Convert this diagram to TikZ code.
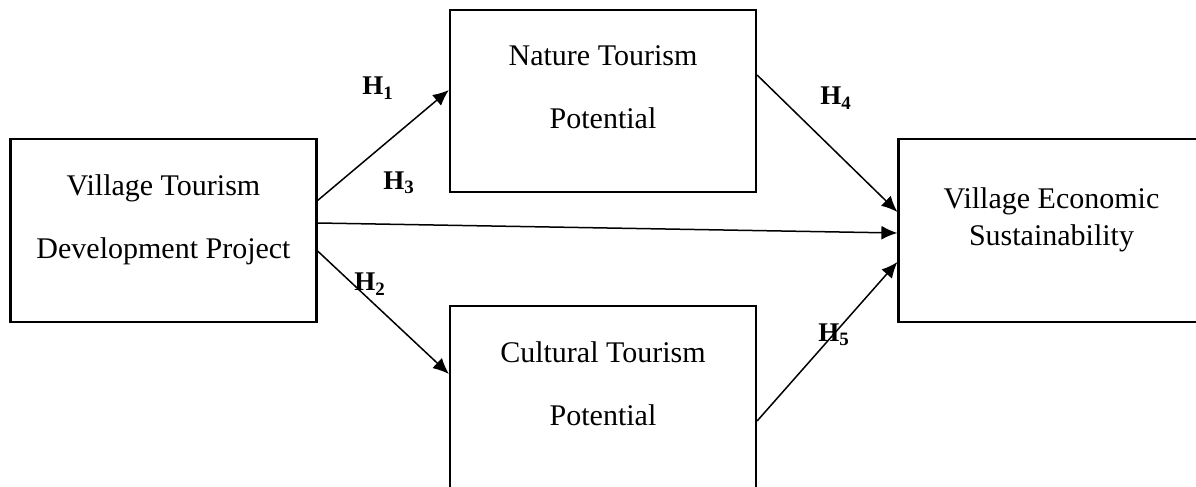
\documentclass[tikz,border=0pt]{standalone}
\usepackage{fontspec}
\setmainfont{Liberation Serif}
\usetikzlibrary{
  arrows.meta
  }

\begin{document}
\begin{tikzpicture}[x=0.5pt, y=-0.5pt]
    \useasboundingbox (0,0) rectangle (1196,487);
    \clip (0,0) rectangle (1196,487);
    \tikzset{box/.style = {draw, line width=1.1pt, minimum width=153pt, inner xsep=0pt, inner ysep=0pt, align=center, font=\fontsize{15}{31.5}\selectfont},
             hyp/.style = {font=\fontsize{13.5}{15}\selectfont\bfseries, inner sep=0pt},
             link/.style = {line width=0.75pt, -{Latex[length=8pt, width=7pt]}}}

    % variables
    \node [box, text height=59.5pt, text depth=32pt] (dev) at (163.5,230.5) {Village Tourism\\Development Project};
    \node [box, text height=59pt, text depth=32pt] (nat) at (603,101) {Nature Tourism\\Potential};
    \node [box, text height=59.5pt, text depth=37.5pt] (cul) at (603,403) {Cultural Tourism\\Potential};
    \node [box, text height=53pt, text depth=38.5pt, font=\fontsize{15}{18.5}\selectfont] (eco) at (1051.5,230.5) {Village Economic\\Sustainability};

    % hypotheses
    \draw [link] ([yshift=15pt]dev.east) -- ([yshift=5.5pt]nat.west);
    \draw [link] ([yshift=-10.25pt]dev.east) -- ([yshift=14.5pt]cul.west);
    \draw [link] ([yshift=3.75pt]dev.east) -- ([yshift=-1.25pt]eco.west);
    \draw [link] ([yshift=13pt]nat.east) -- ([yshift=9.25pt]eco.west);
    \draw [link] ([yshift=-9pt]cul.east) -- ([yshift=-15.75pt]eco.west);

    \node [hyp] (h1) at (378,88) {H\textsubscript{1}};
    \node [hyp] (h2) at (370,284) {H\textsubscript{2}};
    \node [hyp] (h3) at (399,183) {H\textsubscript{3}};
    \node [hyp] (h4) at (836,98) {H\textsubscript{4}};
    \node [hyp] (h5) at (834,335) {H\textsubscript{5}};
\end{tikzpicture}
\end{document}
